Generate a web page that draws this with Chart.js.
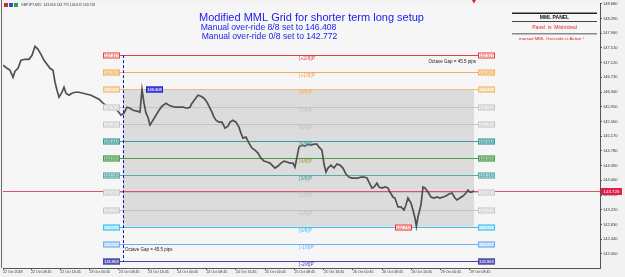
<!DOCTYPE html>
<html>
<head>
<meta charset="utf-8">
<script src="https://cdn.jsdelivr.net/npm/chart.js@4.4.1/dist/chart.umd.min.js"></script>
<style>
    html, body { margin: 0; padding: 0; background: #f2f2f2; }
</style>
</head>
<body>
<canvas id="chart" width="625" height="277"></canvas>
<script>
// GBPJPY M15 - hours counted from 22 Oct 00:00, weekend removed
const priceHours = [
    1.09, 2.19, 3.01, 3.83, 4.37, 5.19, 6.01, 7.11, 8.20, 9.02,
    9.84, 10.66, 11.48, 12.30, 13.12, 13.94, 14.76, 15.31, 15.85, 16.40,
    17.22, 17.77, 18.31, 19.13, 19.95, 20.77, 21.87, 22.96, 24.05, 25.15,
    26.24, 27.34, 28.43, 29.52, 30.62, 31.71, 32.53, 33.35, 34.17, 34.99,
    35.81, 36.63, 37.72, 38.54, 39.09, 39.64, 40.18, 40.73, 41.28, 42.10,
    42.92, 43.74, 44.56, 45.65, 46.47, 47.29, 48.11, 49.20, 50.30, 51.39,
    52.21, 52.76, 53.58, 54.40, 55.22, 56.04, 56.86, 57.40, 58.22, 58.77,
    59.32, 60.14, 60.96, 61.78, 62.60, 63.14, 63.96, 64.78, 65.60, 66.15,
    66.70, 67.52, 68.34, 69.16, 69.98, 70.80, 71.62, 72.44, 73.26, 74.08,
    74.90, 75.45, 76.27, 77.09, 77.90, 78.72, 79.54, 80.36, 80.91, 81.46,
    82.01, 82.83, 83.65, 84.47, 85.29, 86.11, 86.93, 87.47, 88.29, 88.84,
    89.39, 89.93, 90.76, 91.57, 92.39, 93.21, 94.03, 94.85, 95.67, 96.49,
    97.31, 98.13, 98.95, 99.77, 100.59, 101.14, 101.96, 102.51, 103.33, 103.87,
    104.69, 105.51, 106.33, 106.88, 107.70, 108.24, 109.07, 109.89, 110.71, 111.25,
    111.80, 112.62, 113.17, 113.71, 114.10, 114.53, 115.35, 115.90, 116.45, 117.27,
    118.09, 118.91, 119.73, 120.55, 121.37, 122.19, 123.01, 123.83, 124.65, 125.19,
    126.01, 126.83, 127.67, 128.21, 128.75, 129.30, 129.84
];
const priceValues = [
    147.048, 146.969, 146.916, 146.731, 146.890, 146.969, 147.181, 147.207, 147.207, 147.313,
    147.551, 147.471, 147.339, 147.181, 147.075, 146.969, 146.916, 146.599, 146.387, 146.202,
    146.334, 146.467, 146.308, 146.255, 146.308, 146.334, 146.334, 146.308, 146.282, 146.255,
    146.202, 146.149, 146.044, 145.964, 145.938, 145.911, 145.832, 145.726, 145.779, 145.938,
    145.911, 145.858, 145.832, 145.806, 146.408, 146.044, 145.779, 145.673, 145.462, 145.594,
    145.726, 145.858, 145.964, 146.044, 145.991, 145.964, 145.938, 145.938, 145.938, 145.911,
    145.938, 146.044, 146.149, 146.255, 146.229, 146.176, 146.070, 145.964, 145.806, 145.673,
    145.594, 145.541, 145.541, 145.383, 145.435, 145.541, 145.594, 145.541, 145.409, 145.250,
    145.118, 145.145, 144.986, 144.854, 144.801, 144.722, 144.589, 144.510, 144.484, 144.457,
    144.378, 144.325, 144.378, 144.457, 144.510, 144.484, 144.457, 144.457, 144.351, 144.616,
    144.880, 144.933, 144.907, 144.959, 144.933, 144.959, 144.959, 144.880, 144.801, 144.431,
    144.219, 144.325, 144.404, 144.325, 144.431, 144.404, 144.325, 144.166, 144.087, 144.060,
    144.060, 144.060, 144.087, 144.087, 144.060, 143.955, 143.796, 143.823, 143.928, 143.823,
    143.796, 143.823, 143.796, 143.690, 143.558, 143.532, 143.294, 143.294, 143.214, 143.347,
    143.532, 143.399, 143.214, 143.003, 142.780, 143.030, 143.347, 143.823, 143.796, 143.690,
    143.558, 143.532, 143.558, 143.532, 143.558, 143.585, 143.637, 143.664, 143.532, 143.479,
    143.532, 143.585, 143.664, 143.743, 143.690, 143.690, 143.726
];

const xTickHours = [1.09, 8.75, 16.75, 24.75, 32.75, 40.75, 48.75, 56.75, 64.75, 72.75,
    80.75, 88.75, 96.75, 104.75, 112.75, 120.75, 128.75];
const xTickLabels = ['22 Oct 2018', '22 Oct 08:45', '22 Oct 16:45', '23 Oct 00:45', '23 Oct 08:45',
    '23 Oct 16:45', '24 Oct 00:45', '24 Oct 08:45', '24 Oct 16:45', '25 Oct 00:45', '25 Oct 08:45',
    '25 Oct 16:45', '26 Oct 00:45', '26 Oct 08:45', '26 Oct 16:45', '29 Oct 00:45', '29 Oct 08:45'];
const yTicks = [148.680, 148.290, 147.900, 147.510, 147.120, 146.730, 146.340, 145.950, 145.560,
    145.170, 144.780, 144.390, 144.000, 143.610, 143.220, 142.830, 142.440, 142.050];

const mmlNames = ['+2/8', '+1/8', '8/8', '7/8', '6/8', '5/8', '4/8', '3/8', '2/8', '1/8', '0/8', '-1/8', '-2/8'];
const mmlLevels = [147.317, 146.863, 146.408, 145.953, 145.499, 145.044, 144.590, 144.135,
    143.681, 143.226, 142.772, 142.317, 141.863];

const bidPrice = 143.726;
const gridStartHour = 33.9;
const octaveGapPips = 45.5;
const highHour = 39.09, lowHour = 114.10;
const symbolHeader = 'GBPJPY,M15  143.653 143.775 143.615 143.726';

// styles
const FONT = '"Liberation Sans", Arial, sans-serif';
const mmlColors = ['#e84040', '#f0b060', '#f0bc78', '#c4c4c4', '#c4c4c4', '#3c9c9c', '#4c9c4c',
    '#5aacaa', '#c4c4c4', '#c4c4c4', '#3cc0f0', '#70b0f0', '#4848a8'];
const mmlFills = ['#fff0f0', '#fce4c4', '#f6d7a8', '#f4f4f4', '#f4f4f4', '#a8d4d4', '#a8d4a8',
    '#b0dcdc', '#f4f4f4', '#f4f4f4', '#a8e4fa', '#b8d8fa', '#6060b8'];
const mmlBoxText = ['#e04848', '#e8a050', '#ffffff', '#bdbdbd', '#bdbdbd', '#2a7a7a', '#2a7a2a',
    '#2a8080', '#bdbdbd', '#bdbdbd', '#ffffff', '#ffffff', '#ffffff'];
const mmlLabelText = ['#e04848', '#f0a850', '#f0b060', '#c0c0c0', '#c0c0c0', '#3c9c9c', '#a0a040',
    '#3c9c9c', '#c0c0c0', '#c0c0c0', '#3cc0f0', '#70b0f0', '#4848a8'];

function txt(ctx, s, x, y, font, color, align = 'left', baseline = 'middle') {
    ctx.font = font;
    ctx.fillStyle = color;
    ctx.textAlign = align;
    ctx.textBaseline = baseline;
    ctx.fillText(s, x, y);
}

function priceBox(ctx, s, left, cy, w, h, stroke, fill, textColor) {
    ctx.fillStyle = fill;
    ctx.fillRect(left, cy - h / 2, w, h);
    ctx.strokeStyle = stroke;
    ctx.lineWidth = 1;
    ctx.strokeRect(left + 0.5, cy - h / 2 + 0.5, w - 1, h - 1);
    txt(ctx, s, left + w / 2, cy + 0.3, '4px ' + FONT, textColor, 'center');
}

function hline(ctx, x0, x1, y, color) {
    ctx.strokeStyle = color;
    ctx.lineWidth = 1;
    ctx.beginPath();
    ctx.moveTo(x0, y);
    ctx.lineTo(x1, y);
    ctx.stroke();
}

const mmlPlugin = {
    id: 'mml',
    beforeDraw(chart) {
        const {ctx, chartArea: a} = chart;
        ctx.save();
        ctx.fillStyle = '#f2f2f2';
        ctx.fillRect(0, 0, chart.width, chart.height);
        ctx.fillStyle = '#f6f6f6';
        ctx.fillRect(a.left, a.top, a.right - a.left, a.bottom - a.top);
        ctx.restore();
    },
    beforeDatasetsDraw(chart) {
        const {ctx, chartArea: a, scales: {x, y}} = chart;
        const lastH = priceHours[priceHours.length - 1];
        const gx0 = Math.round(x.getPixelForValue(gridStartHour)), gx1 = Math.round(x.getPixelForValue(lastH));
        const lx0 = gx0 - 3, lx1 = gx1 + 4;
        ctx.save();

        // octave box between 8/8 and 0/8
        const yTop = y.getPixelForValue(mmlLevels[2]), yBot = y.getPixelForValue(mmlLevels[10]);
        ctx.fillStyle = '#dcdcdc';
        ctx.fillRect(gx0, yTop, gx1 - gx0, yBot - yTop);

        mmlLevels.forEach((v, i) => {
            const yy = Math.round(y.getPixelForValue(v)) + 0.5;
            hline(ctx, lx0, lx1, yy, mmlColors[i]);
        });

        // bid line
        hline(ctx, a.left, a.right, Math.round(y.getPixelForValue(bidPrice)) + 0.5, '#e0506a');

        // start of grid
        ctx.strokeStyle = '#1010d0';
        ctx.setLineDash([3, 2]);
        ctx.beginPath();
        ctx.moveTo(gx0 + 0.5, y.getPixelForValue(mmlLevels[0]));
        ctx.lineTo(gx0 + 0.5, y.getPixelForValue(mmlLevels[12]));
        ctx.stroke();
        ctx.setLineDash([]);
        ctx.restore();
    },
    afterDatasetsDraw(chart) {
        const {ctx, scales: {x, y}} = chart;
        const lastH = priceHours[priceHours.length - 1];
        const gx0 = Math.round(x.getPixelForValue(gridStartHour)), gx1 = Math.round(x.getPixelForValue(lastH));
        const lx0 = gx0 - 3, lx1 = gx1 + 4, mid = Math.round((gx0 + gx1) / 2);
        ctx.save();

        mmlLevels.forEach((v, i) => {
            const yy = Math.round(y.getPixelForValue(v)) + 0.5;
            priceBox(ctx, v.toFixed(3), lx0 - 17, yy, 17, 6, mmlColors[i], mmlFills[i], mmlBoxText[i]);
            priceBox(ctx, v.toFixed(3), lx1, yy, 17, 6, mmlColors[i], mmlFills[i], mmlBoxText[i]);
            txt(ctx, '[' + mmlNames[i] + ']P', mid, yy + 3.5, '5px ' + FONT, mmlLabelText[i]);
        });

        // manual high / low markers
        priceBox(ctx, mmlLevels[2].toFixed(3), Math.round(x.getPixelForValue(highHour)) + 4,
            Math.round(y.getPixelForValue(mmlLevels[2])) + 0.5, 17, 6, '#2020c0', '#5050f0', '#ffffff');
        priceBox(ctx, mmlLevels[10].toFixed(3), Math.round(x.getPixelForValue(lowHour)) - 21,
            Math.round(y.getPixelForValue(mmlLevels[10])) + 0.5, 17, 6, '#e03030', '#fff4f4', '#e03030');

        const gap = 'Octave Gap = ' + octaveGapPips + ' pips';
        txt(ctx, gap, gx1 + 2, y.getPixelForValue(mmlLevels[0]) + 6.5, '4.5px ' + FONT, '#222', 'right');
        txt(ctx, gap, gx0 + 2, y.getPixelForValue(mmlLevels[12]) - 11, '4.5px ' + FONT, '#222', 'left');

        // marker above last bar
        const mx = x.getPixelForValue(lastH);
        ctx.fillStyle = '#e02020';
        ctx.beginPath();
        ctx.moveTo(mx - 2, 0);
        ctx.lineTo(mx + 2, 0);
        ctx.lineTo(mx, 3.5);
        ctx.closePath();
        ctx.fill();
        ctx.restore();
    },
    afterDraw(chart) {
        const {ctx, chartArea: a, scales: {y}} = chart;
        ctx.save();

        // window frame on the left
        ctx.strokeStyle = '#707070';
        ctx.lineWidth = 1;
        ctx.beginPath();
        ctx.moveTo(1.5, 0);
        ctx.lineTo(1.5, a.bottom);
        ctx.stroke();

        // symbol header
        const ix = 4;
        ctx.fillStyle = '#c03030'; ctx.fillRect(ix, 3, 4, 4);
        ctx.fillStyle = '#3050c0'; ctx.fillRect(ix + 5, 3, 4, 4);
        ctx.fillStyle = '#30a040'; ctx.fillRect(ix + 10, 3, 4, 4);
        txt(ctx, symbolHeader, 21, 5.2, '3.4px ' + FONT, '#333');

        // title block
        txt(ctx, 'Modified MML Grid for shorter term long setup', 199, 20.5, '11px ' + FONT, '#1a1aee', 'left', 'alphabetic');
        txt(ctx, 'Manual over-ride 8/8 set to ' + mmlLevels[2].toFixed(3), 200.7, 30.4, '8.6px ' + FONT, '#1a1aee', 'left', 'alphabetic');
        txt(ctx, 'Manual over-ride 0/8 set to ' + mmlLevels[10].toFixed(3), 201.7, 39.4, '8.6px ' + FONT, '#1a1aee', 'left', 'alphabetic');

        // MML panel
        const p0 = 512, p1 = 597, pc = (p0 + p1) / 2;
        ctx.strokeStyle = '#222'; ctx.lineWidth = 1.5;
        ctx.beginPath(); ctx.moveTo(p0, 13.25); ctx.lineTo(p1, 13.25); ctx.stroke();
        ctx.strokeStyle = '#444'; ctx.lineWidth = 1;
        ctx.beginPath(); ctx.moveTo(p0, 21.5); ctx.lineTo(p1, 21.5); ctx.stroke();
        ctx.strokeStyle = '#8a8a8a'; ctx.lineWidth = 1.5;
        ctx.beginPath(); ctx.moveTo(p0, 33.75); ctx.lineTo(p1, 33.75); ctx.stroke();
        txt(ctx, 'MML PANEL', pc, 17.5, 'bold 5px ' + FONT, '#111', 'center');
        txt(ctx, 'Panel  is  Minimized', pc, 28, '5px ' + FONT, '#e02020', 'center');
        txt(ctx, 'manual MML Over-ride is Active !', pc - 3, 38.5, '4.4px ' + FONT, '#e02020', 'center');

        // bid label on the price axis
        const by = Math.round(y.getPixelForValue(bidPrice)) + 0.5;
        ctx.fillStyle = '#e0204a';
        ctx.fillRect(a.right + 1, by - 3.5, 21, 7);
        txt(ctx, bidPrice.toFixed(3), a.right + 11.5, by + 0.3, '4.4px ' + FONT, '#ffffff', 'center');
        ctx.restore();
    }
};

const ctxEl = document.getElementById('chart');
new Chart(ctxEl, {
    type: 'line',
    data: {
        datasets: [{
            data: priceHours.map((h, i) => ({x: h, y: priceValues[i]})),
            borderColor: '#505050',
            borderWidth: 1.7,
            pointRadius: 0,
            tension: 0,
        }],
    },
    options: {
        responsive: false,
        animation: false,
        events: [],
        layout: {padding: {left: 3, top: 3, right: 0, bottom: 0}},
        plugins: {legend: {display: false}, tooltip: {enabled: false}},
        scales: {
            x: {
                type: 'linear',
                min: 1.09,
                max: 164.3,
                afterBuildTicks: s => { s.ticks = xTickHours.map(v => ({value: v})); },
                afterFit: s => { s.height = 9; },
                grid: {drawOnChartArea: false, tickLength: 2, color: '#555'},
                border: {color: '#555'},
                ticks: {
                    autoSkip: false,
                    maxRotation: 0,
                    align: 'start',
                    padding: 0,
                    color: '#333',
                    font: {size: 3.6, family: FONT},
                    callback: (v, i) => xTickLabels[i],
                },
            },
            y: {
                type: 'linear',
                position: 'right',
                min: 141.677,
                max: 148.688,
                afterBuildTicks: s => { s.ticks = yTicks.map(v => ({value: v})); },
                afterFit: s => { s.width = 25; },
                grid: {drawOnChartArea: false, tickLength: 2, color: '#555'},
                border: {color: '#555'},
                ticks: {
                    autoSkip: false,
                    padding: 1,
                    color: '#333',
                    font: {size: 4, family: FONT},
                    callback: v => v.toFixed(3),
                },
            },
        },
    },
    plugins: [mmlPlugin],
});
</script>
</body>
</html>
